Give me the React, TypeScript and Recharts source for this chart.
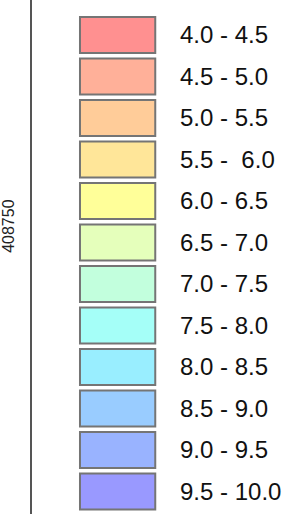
import { ComposedChart, Bar, XAxis, YAxis, Cell } from "recharts";

// ─── Legend data ─────────────────────────────────────────────────────────────

const RANGES = [
  "4.0 - 4.5",
  "4.5 - 5.0",
  "5.0 - 5.5",
  "5.5 -  6.0",
  "6.0 - 6.5",
  "6.5 - 7.0",
  "7.0 - 7.5",
  "7.5 - 8.0",
  "8.0 - 8.5",
  "8.5 - 9.0",
  "9.0 - 9.5",
  "9.5 - 10.0",
];

const COLORS = [
  "#ff9090",
  "#ffb099",
  "#ffcc99",
  "#ffe699",
  "#ffff99",
  "#e5ffbb",
  "#c2ffdd",
  "#a5fff8",
  "#99eeff",
  "#99ccff",
  "#99b3ff",
  "#9999ff",
];

const Y_TICKS = [408750];
const Y_DOMAIN = [408400, 409025];

const FONT = "'Liberation Sans', Arial, sans-serif";

const data = RANGES.map((label) => ({ label, box: [0.345, 0.875] }));

// ─── Ticks ───────────────────────────────────────────────────────────────────

function RangeTick({ x, y, payload }: any) {
  return (
    <text
      x={x}
      y={y}
      dy="0.36em"
      fontSize={24}
      fontFamily={FONT}
      fill="#111"
      textAnchor="start"
      style={{ whiteSpace: "pre" }}
    >
      {payload.value}
    </text>
  );
}

function CoordTick({ y, payload }: any) {
  return (
    <text
      transform={`translate(13.5, ${y}) rotate(-90)`}
      fontSize={16}
      fontFamily={FONT}
      fill="#222"
      textAnchor="middle"
    >
      {payload.value}
    </text>
  );
}

export default function App() {
  return (
    <div style={{ position: "absolute", left: 0, top: 0, width: 301, height: 514, background: "#fff" }}>
      {/* map frame: left coordinate axis */}
      <div style={{ position: "absolute", left: 0, top: 0 }}>
        <ComposedChart width={301} height={514} margin={{ top: 0, right: 0, bottom: 0, left: 0 }}>
          <XAxis type="number" domain={[0, 1]} hide />
          <YAxis
            type="number"
            domain={Y_DOMAIN}
            ticks={Y_TICKS}
            width={31}
            tickLine={false}
            axisLine={{ stroke: "#555", strokeWidth: 2 }}
            tick={<CoordTick />}
            allowDataOverflow
          />
        </ComposedChart>
      </div>

      {/* colour legend */}
      <div style={{ position: "absolute", left: 0, top: 0 }}>
        <ComposedChart
          width={301}
          height={514}
          data={data}
          layout="vertical"
          margin={{ top: 0, right: 0, bottom: 0, left: 31 }}
        >
          <XAxis type="number" domain={[0, 1]} hide />
          <YAxis
            type="category"
            dataKey="label"
            orientation="right"
            width={128}
            axisLine={false}
            tickLine={false}
            tickSize={0}
            tickMargin={7}
            padding={{ top: 14, bottom: 2 }}
            tick={<RangeTick />}
            interval={0}
          />
          <Bar
            dataKey="box"
            barSize={36}
            stroke="#757575"
            strokeWidth={2}
            isAnimationActive={false}
          >
            {data.map((_, i) => (
              <Cell key={i} fill={COLORS[i]} />
            ))}
          </Bar>
        </ComposedChart>
      </div>
    </div>
  );
}
